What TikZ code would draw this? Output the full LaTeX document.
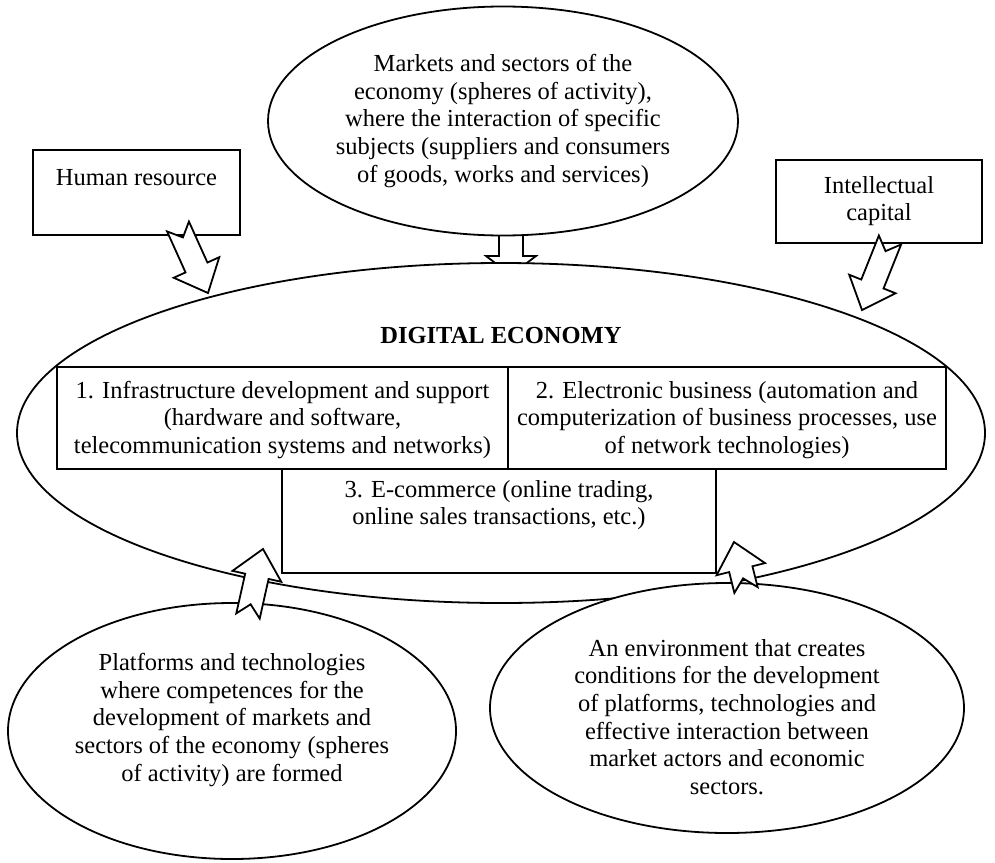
\documentclass[tikz,border=0pt]{standalone}
\usepackage{fontspec}
\setmainfont{Liberation Serif}
\usetikzlibrary{shapes.geometric,calc}
\newcommand\sw{12pt}
\newcommand\hw{25pt}
\newcommand\nd{12pt}
\newcommand\blockarrow[3]{%
  \coordinate (q) at ($(#2)!#3!(#1)$);
  \draw[barrow] ($(#1)!\sw!90:(#2)$) -- ($(q)!\sw!-90:(#1)$) -- ($(q)!\hw!-90:(#1)$) -- (#2)
    -- ($(q)!\hw!90:(#1)$) -- ($(q)!\sw!90:(#1)$) -- ($(#1)!\sw!-90:(#2)$) -- ($(#1)!\nd!(#2)$) -- cycle;}
\begin{document}
\begin{tikzpicture}[x=1pt,y=-1pt,line width=1.8pt,
  txt/.style={font=\fontsize{24.5}{27.6}\selectfont,align=center,inner sep=0pt},
  shp/.style={draw,fill=white,inner sep=0pt,outer sep=0pt},
  oval/.style={shp,ellipse},
  bx/.style={shp,rectangle},
  barrow/.style={draw,fill=white,line join=miter}]
\useasboundingbox[fill=white] (0,0) rectangle (995,862);

% top arrow (tail hidden under the top ellipse)
\coordinate (tT) at (511,215);
\coordinate (tH) at (511,275);
\blockarrow{tT}{tH}{19pt}

% top ellipse
\node[oval,minimum width=470pt,minimum height=229pt] (mk) at (503,121) {};
\node[txt] (mkt) at (503,121) {Markets and sectors of the\\economy (spheres of activity),\\where the interaction of specific\\subjects (suppliers and consumers\\of goods, works and services)};

% digital economy ellipse
\node[oval,minimum width=968pt,minimum height=340pt] (de) at (501,433) {};
\node[txt,font=\fontsize{24.5}{27.6}\selectfont\bfseries] (det) at (501,336) {DIGITAL ECONOMY};

% inner boxes
\node[bx,minimum width=451pt,minimum height=102pt] (b1) at (282.5,418) {};
\node[txt] (b1t) at (282.5,420) {1. Infrastructure development and support\\(hardware and software,\\telecommunication systems and networks)};
\node[bx,minimum width=438pt,minimum height=102pt] (b2) at (727,418) {};
\node[txt] (b2t) at (727,420) {2. Electronic business (automation and\\computerization of business processes, use\\of network technologies)};
\node[bx,minimum width=434pt,minimum height=104pt] (b3) at (499,521) {};
\node[txt] (b3t) at (499,505) {3. E-commerce (online trading,\\online sales transactions, etc.)};

% side boxes
\node[bx,minimum width=207pt,minimum height=85pt] (hr) at (136.5,192.5) {};
\node[txt] (hrt) at (136.5,178) {Human resource};
\node[bx,minimum width=206pt,minimum height=83pt] (ic) at (879,201.5) {};
\node[txt] (ict) at (879,201) {Intellectual\\capital};

% arrows from side boxes
\coordinate (hT) at (178,226.5);
\coordinate (hH) at (208,293);
\blockarrow{hT}{hH}{28pt}
\coordinate (iT) at (890,240);
\coordinate (iH) at (862,310);
\blockarrow{iT}{iH}{28pt}

% lower ellipses
\node[oval,minimum width=448pt,minimum height=256pt] (pl) at (232,731) {};
\node[txt] (plt) at (232,720) {Platforms and technologies\\where competences for the\\development of markets and\\sectors of the economy (spheres\\of activity) are formed};
\node[oval,minimum width=474pt,minimum height=250pt] (en) at (727,708) {};
\node[txt] (ent) at (727,717) {An environment that creates\\conditions for the development\\of platforms, technologies and\\effective interaction between\\market actors and economic\\sectors.};

% arrows from lower ellipses
\coordinate (lT) at (248,616);
\coordinate (lH) at (263,549);
\blockarrow{lT}{lH}{28pt}
\coordinate (rT) at (746,590);
\coordinate (rH) at (734,542);
\blockarrow{rT}{rH}{28pt}
\end{tikzpicture}
\end{document}
